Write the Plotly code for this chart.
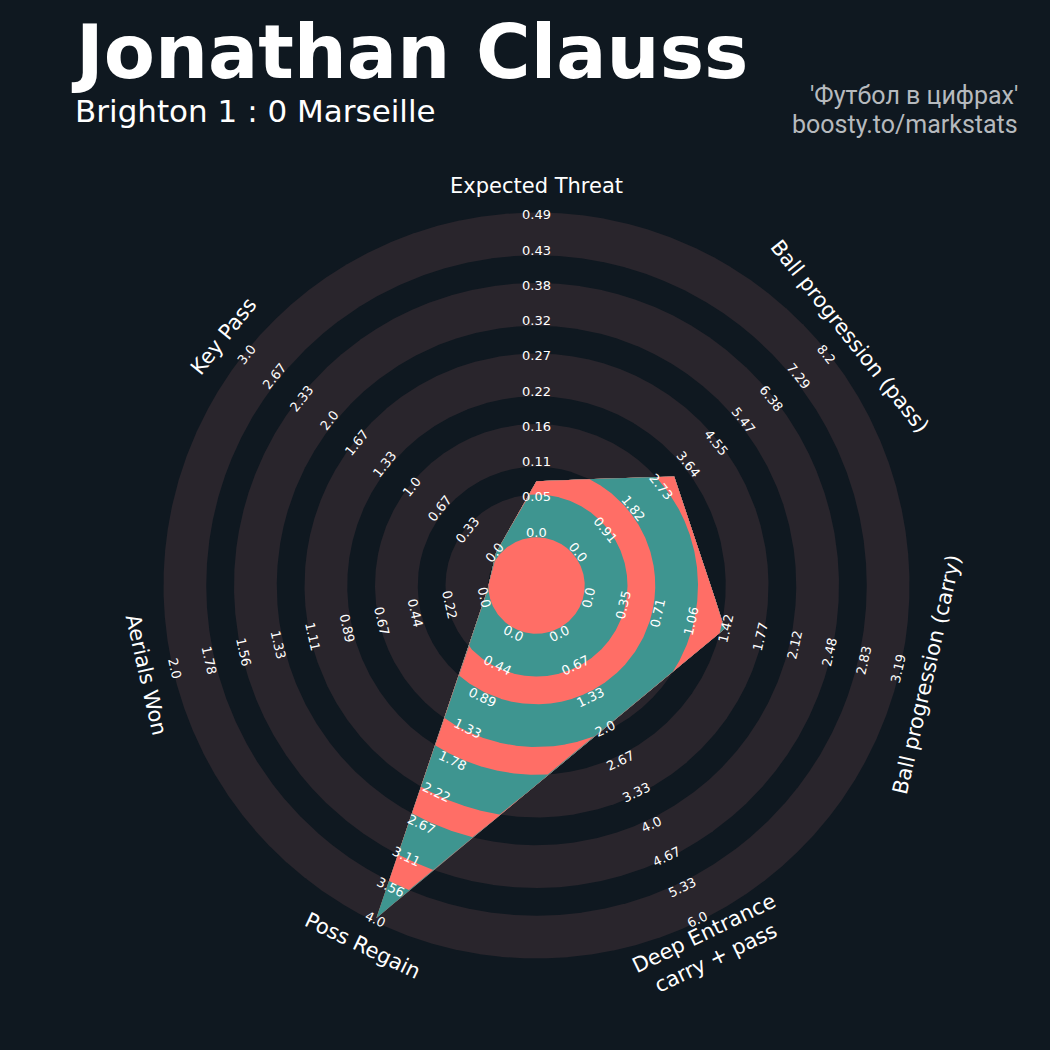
import numpy as np
import plotly.graph_objects as go

# ---------------- data ----------------
params = ["Expected Threat", "Ball progression (pass)", "Ball progression (carry)",
          "Deep Entrance<br>carry + pass", "Poss Regain", "Aerials Won", "Key Pass"]
low = [0, 0, 0, 0, 0, 0, 0]
high = [0.486, 8.198, 3.186, 6.0, 4.0, 2.0, 3.0]
values = [0.08, 3.2, 1.42, 2.0, 4.0, 0.0, 0.0]
tick_labels = [
    ["0.0", "0.05", "0.11", "0.16", "0.22", "0.27", "0.32", "0.38", "0.43", "0.49"],
    ["0.0", "0.91", "1.82", "2.73", "3.64", "4.55", "5.47", "6.38", "7.29", "8.2"],
    ["0.0", "0.35", "0.71", "1.06", "1.42", "1.77", "2.12", "2.48", "2.83", "3.19"],
    ["0.0", "0.67", "1.33", "2.0", "2.67", "3.33", "4.0", "4.67", "5.33", "6.0"],
    ["0.0", "0.44", "0.89", "1.33", "1.78", "2.22", "2.67", "3.11", "3.56", "4.0"],
    ["0.0", "0.22", "0.44", "0.67", "0.89", "1.11", "1.33", "1.56", "1.78", "2.0"],
    ["0.0", "0.33", "0.67", "1.0", "1.33", "1.67", "2.0", "2.33", "2.67", "3.0"],
]
title = "Jonathan Clauss"
subtitle = "Brighton 1 : 0 Marseille"
credit = ["'Футбол в цифрах'", "boosty.to/markstats"]

# ---------------- style / layout ----------------
BG = "#0f1820"
RING = "#29252c"
RED = "#ff6e66"
TEAL = "#3e9590"
W = H = 1050
CX, CY = 536.5, 585.5
R0, STEP, NR, EDGE = 52.0, 35.25, 9, 3.75
ROUT = R0 + NR * STEP
FONT = "DejaVu Sans"

n = len(params)
theta = np.pi / 2 - 2 * np.pi * np.arange(n) / n


def to_radius(v, i):
    return R0 + (v - low[i]) / (high[i] - low[i]) * (ROUT - R0)


radii = np.array([to_radius(values[i], i) for i in range(n)])

# polygon radial profile (star-shaped around the centre)
NSEG = 500
phi_list, r_list = [], []
for i in range(n):
    j = (i + 1) % n
    P = radii[i] * np.array([np.cos(theta[i]), np.sin(theta[i])])
    Q = radii[j] * np.array([np.cos(theta[i] - 2 * np.pi / n), np.sin(theta[i] - 2 * np.pi / n)])
    D = Q - P
    ph = theta[i] - np.linspace(0, 2 * np.pi / n, NSEG, endpoint=False)
    ux, uy = np.cos(ph), np.sin(ph)
    s = (P[0] * D[1] - P[1] * D[0]) / (ux * D[1] - uy * D[0])
    phi_list.append(ph)
    r_list.append(s)
phi = np.concatenate(phi_list + [[theta[0] - 2 * np.pi]])
Rprof = np.concatenate(r_list + [[radii[0]]])


def region(rcap, profile=None):
    r = np.minimum(Rprof if profile is None else profile, rcap)
    return (r * np.cos(phi)).tolist(), (r * np.sin(phi)).tolist()


def fill_trace(x, y, color):
    return go.Scatter(x=x, y=y, mode="lines", fill="toself", fillcolor=color,
                      line=dict(width=0, color=color), hoverinfo="skip", showlegend=False)


fig = go.Figure()
inf_prof = np.full_like(Rprof, 1e9)

# band edges (even rings are drawn)
bands = []
for k in range(0, NR, 2):
    a = R0 + k * STEP - EDGE
    b = R0 + (k + 1) * STEP + EDGE
    bands.append((a, b))

# background rings
for a, b in reversed(bands):
    x, y = region(b, inf_prof)
    fig.add_trace(fill_trace(x, y, RING))
    x, y = region(a, inf_prof)
    fig.add_trace(fill_trace(x, y, BG))

# radar polygon and clipped rings
x, y = region(1e9)
fig.add_trace(fill_trace(x, y, RED))
for a, b in reversed(bands):
    x, y = region(b)
    fig.add_trace(fill_trace(x, y, TEAL))
    x, y = region(a)
    fig.add_trace(fill_trace(x, y, RED))

annotations = []


def rot_for(i):
    rot = i * 360.0 / n
    if 90 < rot < 270:
        rot -= 180
    elif rot >= 270:
        rot -= 360
    return rot


for i in range(n):
    rot = rot_for(i)
    for k, lab in enumerate(tick_labels[i]):
        r = R0 + k * STEP + 1.5
        annotations.append(dict(x=r * np.cos(theta[i]), y=r * np.sin(theta[i]), xref="x", yref="y",
                                text=lab, showarrow=False, textangle=rot,
                                xanchor="center", yanchor="middle",
                                font=dict(family=FONT, size=13, color="white")))
    r = 400
    annotations.append(dict(x=r * np.cos(theta[i]), y=r * np.sin(theta[i]), xref="x", yref="y",
                            text=params[i], showarrow=False, textangle=rot,
                            xanchor="center", yanchor="middle", align="center",
                            font=dict(family=FONT, size=21, color="white")))


def px(xp):
    return xp / W


def py(yp):
    return 1 - yp / H


annotations.append(dict(x=px(69), y=py(52), xref="paper", yref="paper", text="<b>" + title + "</b>",
                        showarrow=False, xanchor="left", yanchor="middle",
                        font=dict(family=FONT, size=74.5, color="white")))
annotations.append(dict(x=px(72.5), y=py(111.5), xref="paper", yref="paper", text=subtitle,
                        showarrow=False, xanchor="left", yanchor="middle",
                        font=dict(family=FONT, size=31, color="white")))
annotations.append(dict(x=px(1020), y=py(96), xref="paper", yref="paper", text=credit[0],
                        showarrow=False, xanchor="right", yanchor="middle",
                        font=dict(family="Roboto", size=25, color="#b6babe")))
annotations.append(dict(x=px(1020), y=py(124), xref="paper", yref="paper", text=credit[1],
                        showarrow=False, xanchor="right", yanchor="middle",
                        font=dict(family="Roboto", size=25, color="#b6babe")))

fig.update_layout(
    width=W, height=H, margin=dict(l=0, r=0, t=0, b=0),
    paper_bgcolor=BG, plot_bgcolor=BG, showlegend=False,
    annotations=annotations,
    xaxis=dict(range=[-CX, W - CX], visible=False, fixedrange=True),
    yaxis=dict(range=[-(H - CY), CY], visible=False, fixedrange=True),
)

fig.write_html("out.html", config={"displayModeBar": False},
               post_script="document.body.style.margin='0';document.body.style.background='" + BG + "';")
